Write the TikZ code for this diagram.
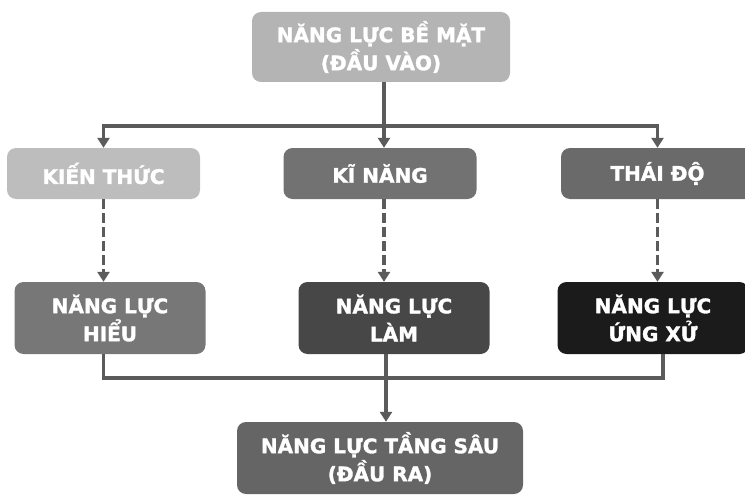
\documentclass[tikz,border=0pt]{standalone}
\usepackage{fontspec}
\setmainfont{DejaVu Sans}[BoldFeatures={FakeBold=1.6}]
\usepackage{xcolor}
\usepackage{tikz}
\usetikzlibrary{arrows.meta}
\usetikzlibrary{positioning, calc}
\definecolor{linegray}{HTML}{5B5B5B}
\tikzset{
    cardnode/.style = {inner sep=0pt, text centered, align=center,
        rounded corners=9pt, text=white,
        font=\bfseries\fontsize{20}{28}\selectfont},
    slim_card/.style = {cardnode, minimum width=193pt, minimum height=51pt},
    tall_card/.style = {cardnode, minimum width=191pt, minimum height=72pt},
    link/.style = {draw=linegray, line width=3.5pt},
    dashlink/.style = {link, dash pattern=on 10pt off 4pt},
}

\begin{document}
\begin{tikzpicture}[x=1pt,y=-1pt,>={Triangle[width=12pt,length=10pt]}]
        \useasboundingbox (0,0) rectangle (745,495);
        \clip (0,0) rectangle (745,495);
        % input
        \node (top) [cardnode, fill={rgb,255:red,180;green,180;blue,180},
            minimum width=258pt, minimum height=70pt] at (381,47)
            {NĂNG LỰC BỀ MẶT\\(ĐẦU VÀO)};
        \coordinate (split) at (384,126);
        % three branches
        \node (kien) [slim_card, fill={rgb,255:red,189;green,189;blue,189}] at (103.5,173.5) {KIẾN THỨC};
        \node (kinang) [slim_card, fill={rgb,255:red,114;green,114;blue,114}] at (380,173.5) {KĨ NĂNG};
        \node (thaido) [slim_card, fill={rgb,255:red,106;green,106;blue,106}] at (657.5,173.5) {THÁI ĐỘ};
        \node (hieu) [tall_card, fill={rgb,255:red,119;green,119;blue,119}] at (110,318) {NĂNG LỰC\\HIỂU};
        \node (lam) [tall_card, fill={rgb,255:red,71;green,71;blue,71}] at (394,318) {NĂNG LỰC\\LÀM};
        \node (ungxu) [tall_card, fill={rgb,255:red,27;green,27;blue,27}] at (653,318) {NĂNG LỰC\\ỨNG XỬ};
        % output
        \coordinate (join) at (386,378);
        \node (bottom) [cardnode, fill={rgb,255:red,101;green,101;blue,101},
            minimum width=286pt, minimum height=72pt] at (380,458)
            {NĂNG LỰC TẦNG SÂU\\(ĐẦU RA)};

        \draw[link, <->] (kien.north) |- (split) -| (thaido.north);
        \draw[link, ->] (top.south -| split) -- (kinang.north -| split);
        \draw[dashlink, ->] (kien.south) -- (kien.south |- hieu.north);
        \draw[dashlink, ->] (kinang.south -| split) -- (lam.north -| split);
        \draw[dashlink, ->] (thaido.south) -- (thaido.south |- ungxu.north);
        \draw[link] (kien.south |- hieu.south) |- (join) -| ([xshift=10pt]ungxu.south);
        \draw[link, ->] (lam.south -| join) -- (bottom.north -| join);
\end{tikzpicture}
\end{document}
